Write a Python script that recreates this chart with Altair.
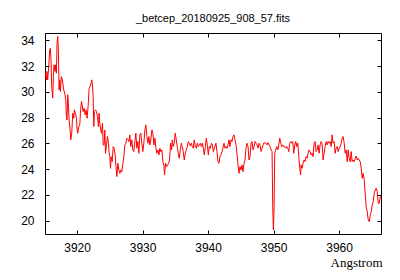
import altair as alt
import pandas as pd

wavelength = [
    3915.05, 3915.31, 3915.41, 3915.51, 3915.67, 3915.82, 3915.92, 3916.02, 3916.12, 3916.28,
    3916.38, 3916.48, 3916.63, 3916.74, 3916.84, 3916.94, 3917.04, 3917.14, 3917.25, 3917.35,
    3917.45, 3917.60, 3917.76, 3917.86, 3917.96, 3918.11, 3918.27, 3918.37, 3918.47, 3918.57,
    3918.67, 3918.78, 3918.93, 3919.03, 3919.18, 3919.34, 3919.49, 3919.59, 3919.75, 3919.90,
    3920.00, 3920.10, 3920.26, 3920.41, 3920.51, 3920.66, 3920.77, 3920.92, 3921.07, 3921.22,
    3921.38, 3921.53, 3921.68, 3921.84, 3921.99, 3922.14, 3922.24, 3922.35, 3922.45, 3922.55,
    3922.65, 3922.81, 3922.96, 3923.11, 3923.26, 3923.37, 3923.47, 3923.62, 3923.72, 3923.88,
    3923.98, 3924.13, 3924.23, 3924.34, 3924.49, 3924.64, 3924.79, 3924.90, 3925.00, 3925.10,
    3925.20, 3925.36, 3925.51, 3925.66, 3925.81, 3925.92, 3926.07, 3926.22, 3926.38, 3926.53,
    3926.68, 3926.83, 3926.99, 3927.14, 3927.29, 3927.45, 3927.60, 3927.75, 3927.91,
    3928.05, 3928.20, 3928.36, 3928.51, 3928.66, 3928.82, 3928.97, 3929.12, 3929.28, 3929.43,
    3929.58, 3929.73, 3929.89, 3930.04, 3930.19, 3930.35, 3930.50, 3930.65, 3930.81, 3930.96,
    3931.11, 3931.26, 3931.42, 3931.57, 3931.72, 3931.88, 3932.03, 3932.18, 3932.34, 3932.49,
    3932.64, 3932.79, 3932.95, 3933.10, 3933.25, 3933.35, 3933.51, 3933.66, 3933.81, 3933.97,
    3934.12, 3934.27, 3934.43, 3934.53, 3934.68, 3934.83, 3934.99, 3935.14, 3935.29, 3935.45,
    3935.60, 3935.75, 3935.91, 3936.06, 3936.21, 3936.36, 3936.52, 3936.67, 3936.82, 3936.98,
    3937.13, 3937.28, 3937.44, 3937.59, 3937.74, 3937.89, 3938.05, 3938.20, 3938.35, 3938.51,
    3938.66, 3938.81, 3938.97, 3939.12, 3939.27, 3939.42, 3939.58, 3939.73, 3939.88, 3940.04,
    3940.19, 3940.34, 3940.50, 3940.65, 3940.80,
    3941.05, 3941.20, 3941.35, 3941.51, 3941.66, 3941.81, 3941.97, 3942.12, 3942.27, 3942.43,
    3942.58, 3942.73, 3942.88, 3943.04, 3943.19, 3943.34, 3943.50, 3943.65, 3943.80, 3943.96,
    3944.11, 3944.26, 3944.41, 3944.57, 3944.72, 3944.87, 3945.03, 3945.18, 3945.33, 3945.49,
    3945.64, 3945.79, 3945.94, 3946.10, 3946.25, 3946.40, 3946.56, 3946.71, 3946.86, 3947.02,
    3947.17, 3947.32, 3947.47, 3947.63, 3947.78, 3947.93, 3948.09, 3948.24, 3948.39, 3948.55,
    3948.70, 3948.85, 3949.00, 3949.16, 3949.31, 3949.46, 3949.62, 3949.77, 3949.87, 3949.97,
    3950.07, 3950.18, 3950.33, 3950.48, 3950.64, 3950.79, 3950.94, 3951.10, 3951.25, 3951.40,
    3951.55, 3951.71, 3951.86, 3952.01, 3952.17, 3952.32, 3952.47, 3952.63, 3952.78, 3952.93,
    3953.08, 3953.24, 3953.39, 3953.54, 3953.70, 3953.85, 3954.00,
    3954.12, 3954.20, 3954.35, 3954.50, 3954.66, 3954.81, 3954.96, 3955.12, 3955.27, 3955.42,
    3955.58, 3955.73, 3955.88, 3956.03, 3956.19, 3956.34, 3956.49, 3956.65, 3956.80, 3956.95,
    3957.11, 3957.26, 3957.41, 3957.56, 3957.72, 3957.87, 3958.02, 3958.18, 3958.33, 3958.48,
    3958.64, 3958.79, 3958.94, 3959.09, 3959.25, 3959.40, 3959.55, 3959.71, 3959.86, 3960.01,
    3960.17, 3960.32, 3960.47, 3960.62, 3960.78, 3960.93, 3961.08, 3961.24, 3961.39, 3961.54,
    3961.70, 3961.85, 3962.00, 3962.15, 3962.31, 3962.46, 3962.61, 3962.77, 3962.92, 3963.07,
    3963.23, 3963.38, 3963.53, 3963.68, 3963.84, 3963.99, 3964.14, 3964.30, 3964.45, 3964.60,
    3964.76, 3964.91, 3965.06, 3965.21, 3965.37, 3965.52, 3965.67, 3965.83, 3965.98, 3966.13,
    3966.29, 3966.44,
]

flux = [
    31.59, 30.94, 31.59, 30.94, 31.98, 33.27, 33.40, 32.50, 30.42, 29.52,
    31.20, 32.11, 31.59, 32.11, 31.46, 33.79, 34.31, 33.27, 30.16, 30.94,
    30.03, 31.20, 30.94, 30.55, 30.16, 29.90, 29.39, 28.09, 27.83, 29.78,
    29.13, 27.83, 27.05, 26.28, 26.79, 28.35, 27.96, 28.61, 28.35, 27.96,
    27.05, 26.79, 27.31, 27.44, 28.35, 29.26, 29.00, 28.48, 28.74, 28.22,
    28.61, 27.96, 28.87, 30.29, 30.42, 30.68, 30.94, 30.55, 29.65, 27.31,
    28.48, 28.61, 28.48, 28.09, 27.31, 28.35, 27.57, 27.05, 26.79, 27.57,
    25.89, 25.89, 27.05, 25.24, 25.89, 26.54, 26.02, 25.24, 24.98, 24.07,
    24.98, 24.59, 25.76, 25.63, 25.11, 24.33, 23.43, 24.46, 23.94, 23.68,
    23.94, 23.81, 24.46, 24.98, 25.89, 26.02, 26.41, 26.33, 26.15,
    26.67, 25.76, 26.28, 25.50, 25.37, 26.15, 26.80, 25.63, 26.15, 25.24,
    26.67, 26.80, 26.02, 25.37, 26.02, 27.05, 27.44, 26.54, 26.02, 26.54,
    25.89, 26.28, 27.05, 26.80, 25.89, 26.41, 25.63, 25.24, 25.50, 25.11,
    25.63, 25.37, 25.50, 24.59, 24.33, 23.56, 24.46, 24.20, 24.33, 24.46,
    24.72, 26.02, 25.50, 26.28, 25.76, 26.02, 26.80, 26.28, 25.76, 25.24,
    24.85, 25.50, 26.02, 25.76, 25.37, 24.72, 25.24, 25.50, 25.76, 26.15,
    26.02, 25.81, 26.02, 25.76, 25.63, 26.28, 25.76, 25.63, 26.02, 25.76,
    25.89, 26.02, 25.76, 26.02, 25.63, 25.11, 25.76, 26.41, 25.89, 25.11,
    25.76, 25.63, 26.02, 25.89, 25.37,
    25.76, 26.02, 25.37, 24.59, 24.46, 24.98, 25.11, 25.37, 25.63, 26.02,
    25.63, 25.76, 25.63, 25.89, 26.28, 25.76, 26.28, 26.15, 26.54, 26.67,
    26.28, 25.89, 25.24, 24.33, 23.68, 24.20, 23.94, 24.33, 23.81, 24.46,
    24.72, 25.63, 26.02, 25.76, 24.72, 24.98, 26.02, 26.15, 25.50, 25.76,
    26.15, 26.02, 25.89, 25.63, 26.02, 25.89, 25.37, 25.63, 25.89, 26.07,
    26.02, 26.02, 25.89, 26.07, 25.89, 25.76, 25.50, 25.37, 21.09, 19.28,
    20.83, 25.24, 25.50, 25.76, 25.50, 25.89, 26.41, 26.02, 25.76, 25.89,
    25.76, 25.76, 25.63, 25.76, 25.63, 25.37, 26.02, 26.15, 26.02, 26.15,
    25.24, 25.89, 26.15, 25.76, 26.02, 24.98, 24.07,
    23.56, 24.33, 24.07, 24.46, 24.72, 24.59, 24.98, 24.85, 25.24, 25.50,
    25.37, 25.11, 25.24, 24.98, 26.02, 26.15, 25.37, 25.50, 25.89, 25.24,
    25.89, 26.15, 26.02, 24.72, 25.24, 25.76, 26.15, 25.89, 26.15, 26.02,
    26.15, 25.76, 26.67, 26.02, 26.15, 25.24, 25.63, 25.76, 25.37, 25.63,
    25.76, 26.02, 26.41, 26.54, 26.02, 25.24, 25.50, 24.59, 25.50, 24.85,
    24.59, 25.37, 24.59, 24.72, 24.59, 24.85, 25.03, 24.72, 24.85, 24.72,
    24.59, 24.07, 23.30, 23.68, 23.17, 22.13, 21.09, 20.70, 20.06, 19.93,
    20.45, 20.70, 21.22, 21.48, 22.13, 22.39, 22.52, 22.26, 21.35, 21.35,
    21.87, 21.74,
]

x_ticks = [3920, 3930, 3940, 3950, 3960]
y_ticks = [20, 22, 24, 26, 28, 30, 32, 34]
x_domain = [3915.1, 3966.4]
y_domain = [18.97, 34.58]

df = pd.DataFrame({"wavelength": wavelength, "flux": flux})

x_scale = alt.Scale(domain=x_domain, nice=False, zero=False)
y_scale = alt.Scale(domain=y_domain, nice=False, zero=False)

label_font = "Liberation Sans"

line = alt.Chart(df).mark_line(color="#ff0000", strokeWidth=1, clip=True).encode(
    x=alt.X(
        "wavelength:Q",
        scale=x_scale,
        axis=alt.Axis(
            orient="bottom", offset=-4, domain=False, grid=False,
            values=x_ticks, tickSize=4, tickColor="black", tickWidth=1,
            labelFont=label_font, labelFontSize=12, labelColor="black",
            labelPadding=8, labelFlush=False, format="d",
            title="Angstrom", titleFont="Liberation Serif", titleFontSize=13,
            titleFontWeight="normal", titleColor="black",
            titleAlign="right", titleBaseline="middle",
            titleX=337, titleY=32,
        ),
    ),
    y=alt.Y(
        "flux:Q",
        scale=y_scale,
        axis=alt.Axis(
            orient="left", offset=-4, domain=False, grid=False,
            values=y_ticks, tickSize=4, tickColor="black", tickWidth=1,
            labelFont=label_font, labelFontSize=12, labelColor="black",
            labelPadding=11, labelFlush=False, format="d", title="",
        ),
    ),
)

mirror = alt.Chart(df).mark_line(opacity=0).encode(
    x=alt.X(
        "wavelength:Q",
        scale=x_scale,
        axis=alt.Axis(
            orient="top", offset=-4, domain=False, grid=False, labels=False,
            values=x_ticks, tickSize=4, tickColor="black", tickWidth=1, title="",
        ),
    ),
    y=alt.Y(
        "flux:Q",
        scale=y_scale,
        axis=alt.Axis(
            orient="right", offset=-4, domain=False, grid=False, labels=False,
            values=y_ticks, tickSize=4, tickColor="black", tickWidth=1, title="",
        ),
    ),
)

chart = (
    alt.layer(mirror, line)
    .resolve_axis(x="independent", y="independent")
    .properties(
        width=336,
        height=201,
        title=alt.TitleParams(
            text="_betcep_20180925_908_57.fits",
            font=label_font, fontSize=11, fontWeight="normal", color="black",
            anchor="middle", offset=9,
        ),
        autosize=alt.AutoSizeParams(type="none"),
        padding={"left": 37, "top": 25, "right": 10, "bottom": 38},
    )
    .configure_view(stroke="black", strokeWidth=1)
)

chart.save("out.html", embed_options={"renderer": "svg", "actions": False})
